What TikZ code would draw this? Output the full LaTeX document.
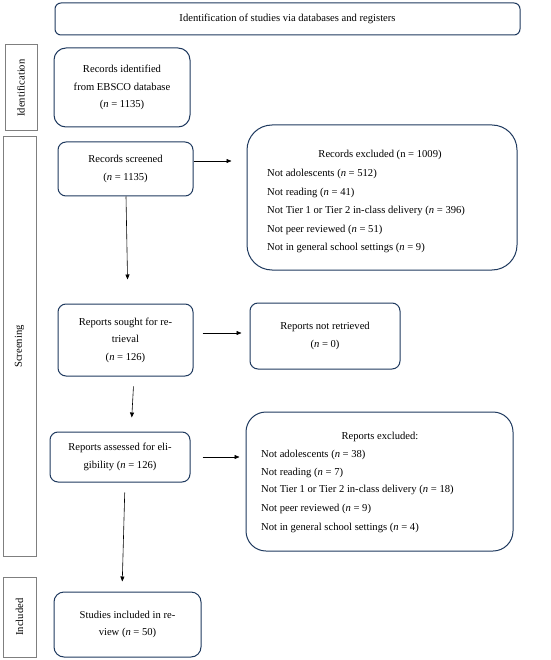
\documentclass[tikz,border=0pt]{standalone}
\usepackage{fontspec}
\setmainfont{Liberation Serif}
\usetikzlibrary{arrows.meta}
\definecolor{navy}{HTML}{1F3A5F}
\definecolor{sidegray}{HTML}{7F7F7F}
\begin{document}
\begin{tikzpicture}[x=1pt,y=-1pt,
  every node/.style={font=\fontsize{10.6}{17.5}\selectfont, text=black},
  box/.style={draw=navy, line width=1pt, rounded corners=#1, align=center, inner sep=2pt},
  box/.default=8pt,
  side/.style={draw=sidegray, line width=1pt, rotate=90, inner sep=0pt},
  line/.style={anchor=base west, inner sep=0pt},
  arr/.style={draw=black, line width=0.6pt, -{Triangle[length=5pt,width=4pt]}}
]
\useasboundingbox (0,0) rectangle (550,660);
\fill[white] (0,0) rectangle (550,660);

% header
\node[box=6pt, minimum width=465pt, minimum height=32pt] (head) at (287.5,19) {Identification of studies via databases and registers};

% side labels
\node[side, minimum width=86pt, minimum height=32pt] (sideid) at (21,88) {Identification};
\node[side, minimum width=419pt, minimum height=33pt] (sidescr) at (19.5,346.5) {Screening};
\node[side, minimum width=80pt, minimum height=33pt] (sideinc) at (19.5,617) {Included};

% main boxes
\node[box=12pt, minimum width=136pt, minimum height=79pt] (ident) at (122,87.5) {Records identified\\from EBSCO database\\(\textit{n} = 1135)};
\node[box=8pt, minimum width=135pt, minimum height=54pt] (screened) at (125.5,169) {Records screened\\(\textit{n} = 1135)};
\node[box=25pt, minimum width=270pt, minimum height=145pt] (ex1) at (382,197.5) {};
\node[box=8pt, minimum width=135pt, minimum height=72pt] (sought) at (125.5,340) {Reports sought for re-\\trieval\\(\textit{n} = 126)};
\node[box=8pt, minimum width=150pt, minimum height=66pt] (notret) at (325,336) {Reports not retrieved\\(\textit{n} = 0)};
\node[box=8pt, minimum width=140pt, minimum height=50pt] (assessed) at (120,457) {Reports assessed for eli-\\gibility (\textit{n} = 126)};
\node[box=20pt, minimum width=267pt, minimum height=139pt] (ex2) at (379.5,481.5) {};
\node[box=10pt, minimum width=147pt, minimum height=65pt] (included) at (127.5,624.5) {Studies included in re-\\view (\textit{n} = 50)};

% exclusion text 1
\node[inner sep=0pt, anchor=base] (ex1t) at (380,158) {Records excluded (n = 1009)};
\node[line] (ex1a) at (267,177) {Not adolescents (\textit{n} = 512)};
\node[line] (ex1b) at (267,195.5) {Not reading (\textit{n} = 41)};
\node[line] (ex1c) at (267,214) {Not Tier 1 or Tier 2 in-class delivery (\textit{n} = 396)};
\node[line] (ex1d) at (267,232) {Not peer reviewed (\textit{n} = 51)};
\node[line] (ex1e) at (267,250.5) {Not in general school settings (\textit{n} = 9)};

% exclusion text 2
\node[inner sep=0pt, anchor=base] (ex2t) at (380,439) {Reports excluded:};
\node[line] (ex2a) at (261,457) {Not adolescents (\textit{n} = 38)};
\node[line] (ex2b) at (261,475) {Not reading (\textit{n} = 7)};
\node[line] (ex2c) at (261,492.5) {Not Tier 1 or Tier 2 in-class delivery (\textit{n} = 18)};
\node[line] (ex2d) at (261,511) {Not peer reviewed (\textit{n} = 9)};
\node[line] (ex2e) at (261,530) {Not in general school settings (\textit{n} = 4)};

% connectors
\draw[arr, shorten >=15pt] (screened.east |- 0,161) -- (ex1.west |- 0,161);
\draw[arr, shorten >=24pt] ([xshift=0.5pt]screened.south) -- ([xshift=2.5pt]sought.north);
\draw[arr, shorten <=9pt, shorten >=8pt] (sought.east |- 0,333) -- (notret.west |- 0,333);
\draw[arr, shorten <=10pt, shorten >=14pt] ([xshift=8.5pt]sought.south) -- ([xshift=11pt]assessed.north);
\draw[arr, shorten <=12pt, shorten >=6pt] (assessed.east) -- (ex2.west |- assessed.east);
\draw[arr, shorten <=10pt, shorten >=10pt] ([xshift=5pt]assessed.south) -- ([xshift=-5.5pt]included.north);
\end{tikzpicture}
\end{document}
